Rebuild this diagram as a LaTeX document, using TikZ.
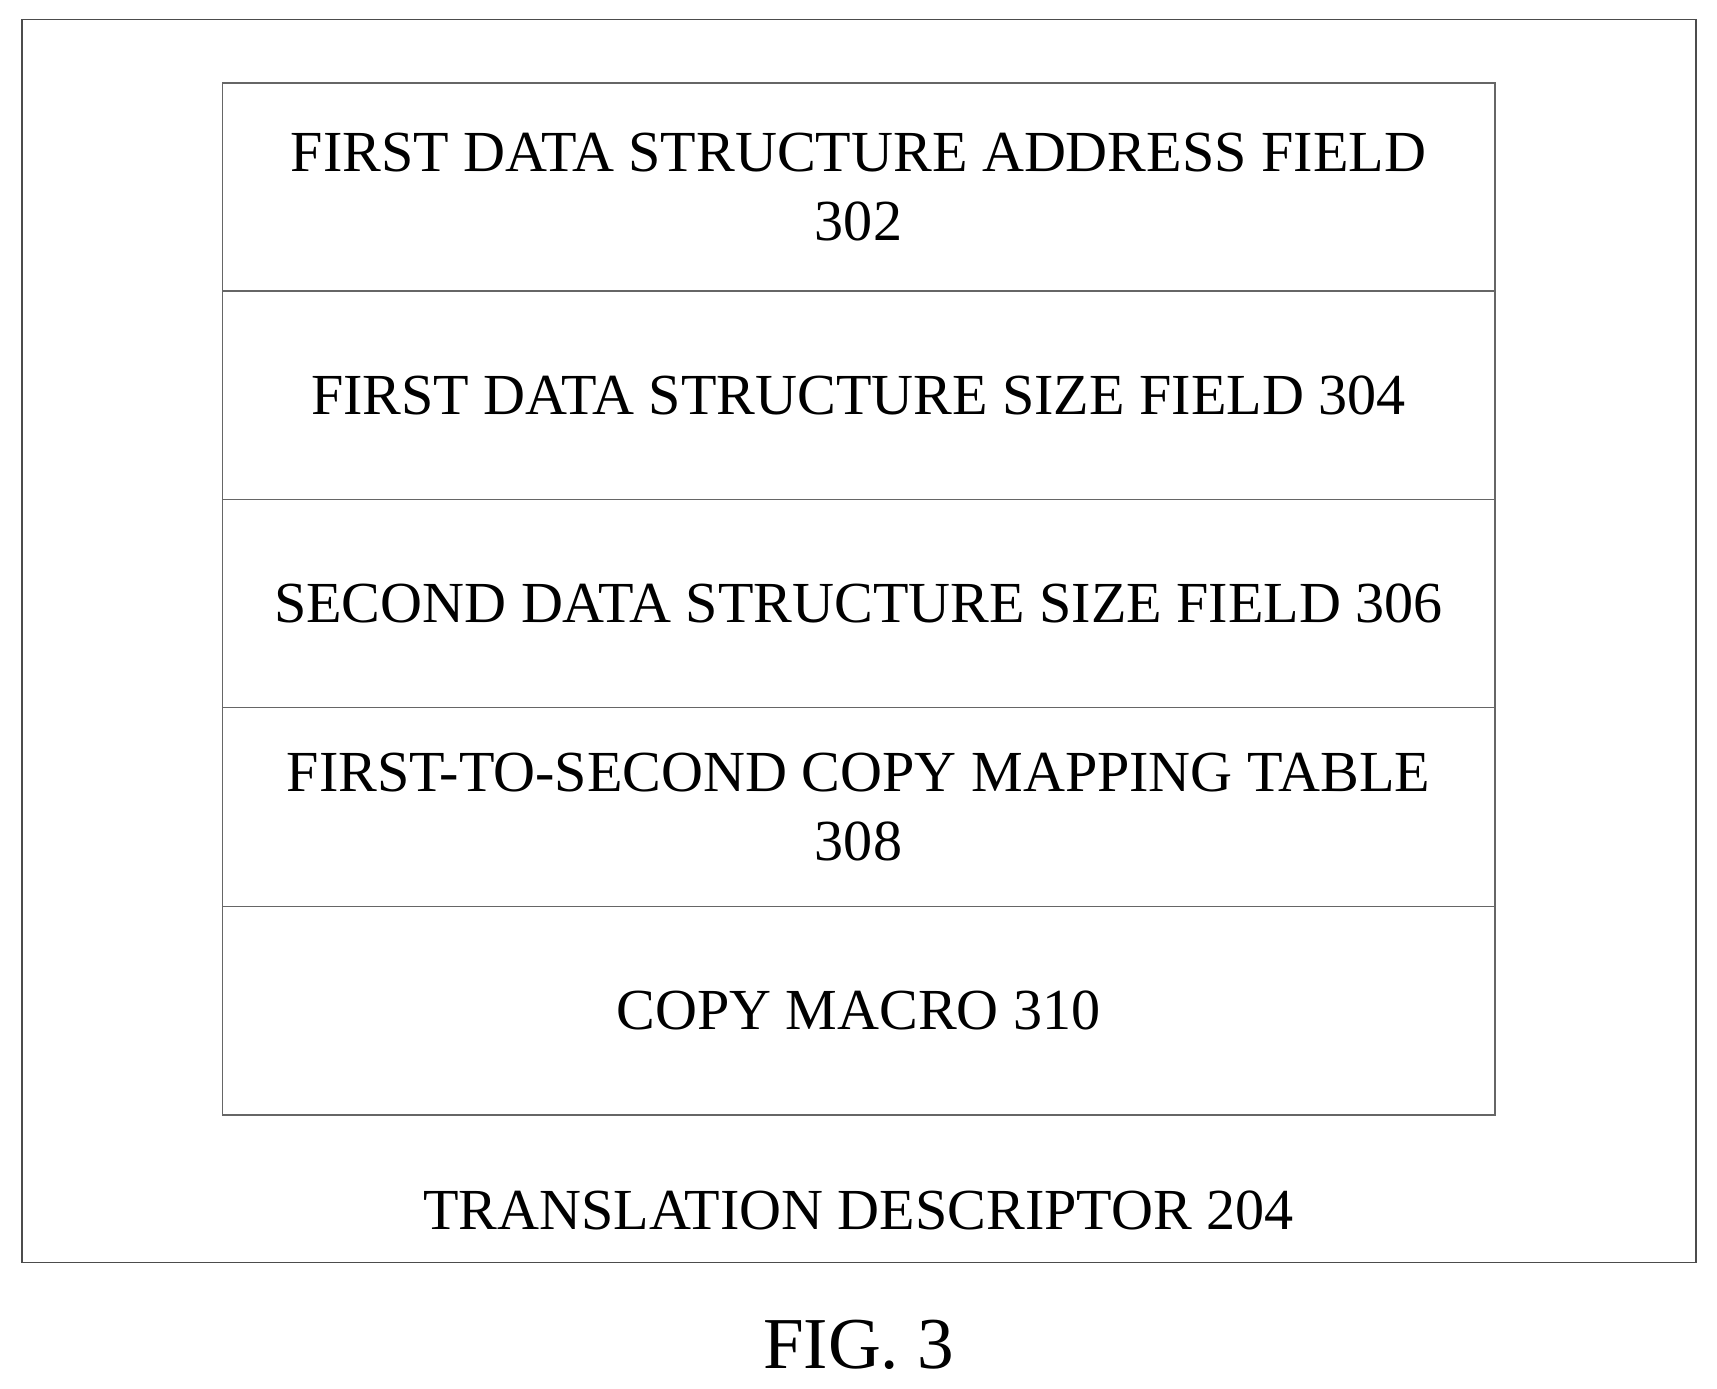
\documentclass[tikz,border=0pt]{standalone}
\usepackage{fontspec}
\setmainfont{Liberation Serif}
\usetikzlibrary{positioning}
\newcommand{\fieldwidth}{11.62cm}
\newcommand{\fieldheight}{1.9cm}
\begin{document}
\begin{tikzpicture}[x=1cm,y=1cm]
\tikzstyle{field}=[draw=black!60,minimum width=\fieldwidth,minimum height=\fieldheight,outer sep=0pt,inner sep=0pt,align=center,font=\fontsize{15.1}{18}\selectfont]

\useasboundingbox (0,0) rectangle (15.68,-12.68);

%% outer frame
\draw[black!70] (0.2,-0.18) rectangle (15.49,-11.53);

%% the fields, stacked
\node (F302) [field, anchor=north west] at (2.03,-0.76) {FIRST DATA STRUCTURE ADDRESS FIELD\\302};
\node (F304) [field, below=0pt of F302] {FIRST DATA STRUCTURE SIZE FIELD 304};
\node (F306) [field, below=0pt of F304] {SECOND DATA STRUCTURE SIZE FIELD 306};
\node (F308) [field, below=0pt of F306, minimum height=1.82cm] {FIRST-TO-SECOND COPY MAPPING TABLE\\308};
\node (F310) [field, below=0pt of F308] {COPY MACRO 310};

%% labels
\node (desc) [font=\fontsize{15.1}{18}\selectfont] at (7.84,-11.05) {TRANSLATION DESCRIPTOR 204};
\node (fig) [font=\fontsize{19}{22}\selectfont] at (7.84,-12.28) {FIG. 3};

\end{tikzpicture}
\end{document}
